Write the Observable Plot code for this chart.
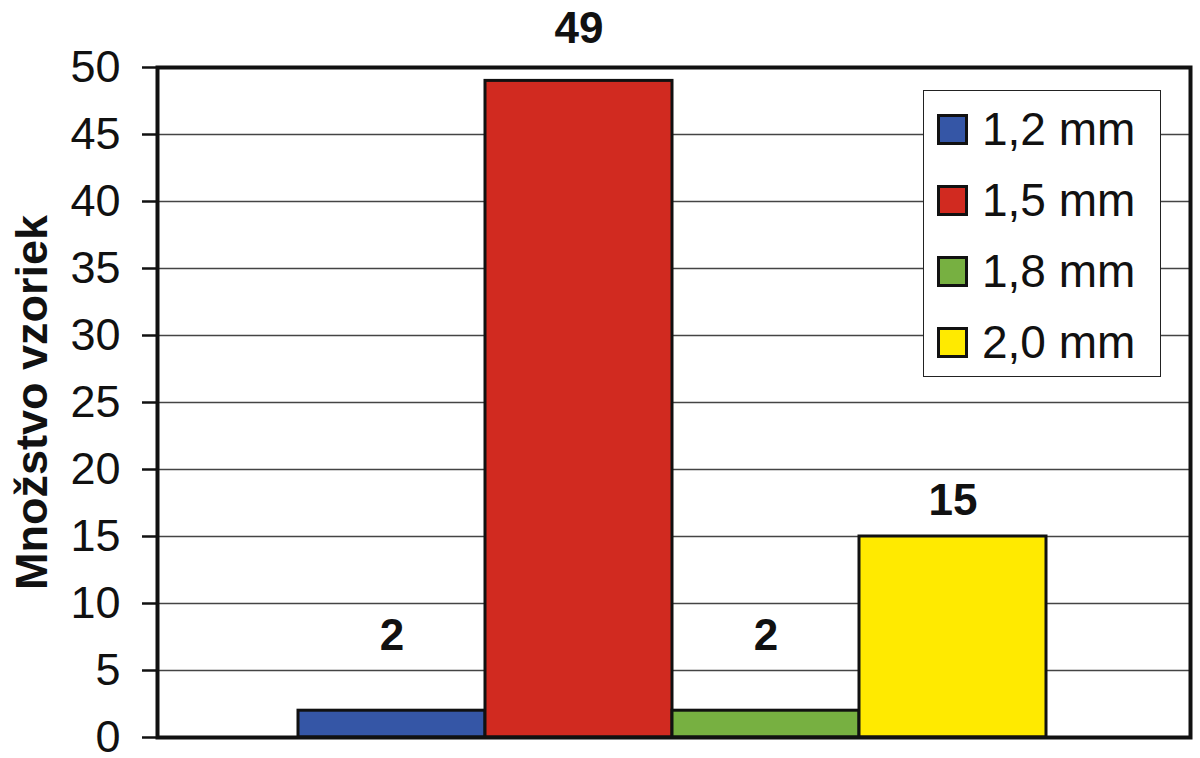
<!DOCTYPE html>
<html>
<head>
<meta charset="utf-8">
<script src="https://cdn.jsdelivr.net/npm/d3@7"></script>
<script src="https://cdn.jsdelivr.net/npm/@observablehq/plot@0.6"></script>
<style>
  html, body { margin: 0; padding: 0; background: #fff; }
  #wrap { position: relative; width: 1200px; height: 758px; font-family: "Liberation Sans", Arial, sans-serif; }
  #wrap svg [aria-label="y-axis label"] text { font-weight: bold; }
  .legend { position: absolute; left: 923px; top: 90px; width: 236px; height: 285px;
            border: 1.5px solid #222; background: #fff; box-sizing: content-box; }
  .row { position: absolute; left: 0; height: 50px; display: flex; align-items: center; }
  .sw { width: 25px; height: 25px; border: 3px solid #111; margin-left: 13px; margin-right: 14px; }
  .lbl { font-size: 46px; color: #111; line-height: 1; }
</style>
</head>
<body>
<div id="wrap"></div>
<script>
const categories = ["1,2 mm", "1,5 mm", "1,8 mm", "2,0 mm"];
const values = [2, 49, 2, 15];
const colors = ["#3556a6", "#d12a20", "#77b041", "#ffea00"];
const yTicks = [0, 5, 10, 15, 20, 25, 30, 35, 40, 45, 50];
const yTitle = "Množstvo vzoriek";
const labelLift = [75, 52, 75, 36];

const data = categories.map((c, i) => ({ cat: c, value: values[i], color: colors[i], lift: labelLift[i] }));

const chart = Plot.plot({
  width: 1200,
  height: 758,
  marginLeft: 157,
  marginRight: 10,
  marginTop: 67,
  marginBottom: 21,
  style: { fontFamily: "Liberation Sans, Arial, sans-serif", fontSize: "44px", color: "#111", background: "#fff" },
  x: { domain: categories, padding: 0, insetLeft: 140, insetRight: 143, axis: null },
  y: { domain: [0, 50], ticks: yTicks },
  marks: [
    Plot.gridY(yTicks.filter(t => t > 0 && t < 50), { stroke: "#444", strokeOpacity: 1, strokeWidth: 1.5 }),
    Plot.axisY(yTicks, { tickSize: 15, tickPadding: 22, strokeWidth: 2.5, stroke: "#111", fontSize: 45,
      label: yTitle, labelAnchor: "center", labelArrow: "none", labelOffset: 142 }),
    Plot.barY(data, { x: "cat", y: "value", fill: "color", stroke: "#111", strokeWidth: 3 }),
    Plot.frame({ stroke: "#111", strokeWidth: 4 }),
    ...data.map(d => Plot.text([d], { x: "cat", y: "value", text: r => String(r.value), dy: -d.lift,
      lineAnchor: "middle", fontWeight: "bold", fontSize: 44, fill: "#111" }))
  ]
});

const wrap = document.getElementById("wrap");
wrap.appendChild(chart);

const legend = document.createElement("div");
legend.className = "legend";
categories.forEach((c, i) => {
  const row = document.createElement("div");
  row.className = "row";
  row.style.top = (13 + i * 71) + "px";
  const sw = document.createElement("div");
  sw.className = "sw";
  sw.style.background = colors[i];
  const lb = document.createElement("span");
  lb.className = "lbl";
  lb.textContent = c;
  row.appendChild(sw);
  row.appendChild(lb);
  legend.appendChild(row);
});
wrap.appendChild(legend);
</script>
</body>
</html>
